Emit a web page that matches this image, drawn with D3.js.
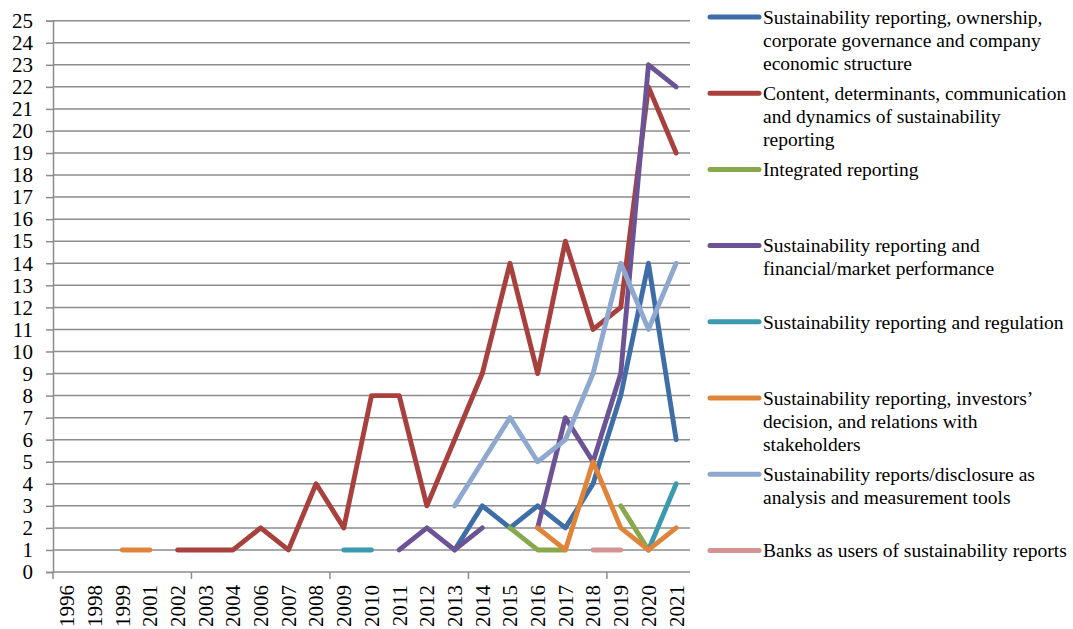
<!DOCTYPE html>
<html>
<head>
<meta charset="utf-8">
<script src="https://cdn.jsdelivr.net/npm/d3@7"></script>
<style>
  html, body { margin: 0; padding: 0; background: #fff; }
  svg text { font-family: "Liberation Serif", "Times New Roman", serif; }
</style>
</head>
<body>
<svg id="chart" width="1073" height="629"></svg>
<script>
// Publication years on the category axis
const years = ["1996","1998","1999","2001","2002","2003","2004","2006","2007","2008","2009",
  "2010","2011","2012","2013","2014","2015","2016","2017","2018","2019","2020","2021"];

// Number of papers per year for each research stream (null = no papers that year)
const ownershipGovernance = [null,null,null,null,null,null,null,null,null,null,null,null,null,null,1,3,2,3,2,4,8,14,6];
const contentDeterminants = [null,null,null,null,1,1,1,2,1,4,2,8,8,3,6,9,14,9,15,11,12,22,19];
const integratedReporting = [null,null,null,null,null,null,null,null,null,null,null,null,null,null,null,null,2,1,1,null,3,1,null];
const financialPerformance = [null,null,null,null,null,null,null,null,null,null,null,null,1,2,1,2,null,2,7,5,9,23,22];
const regulation = [null,null,null,null,null,null,null,null,null,null,1,1,null,null,null,null,null,null,null,null,null,1,4];
const investorsStakeholders = [null,null,1,1,null,null,null,null,null,null,null,null,null,null,null,null,null,2,1,5,2,1,2];
const measurementTools = [null,null,null,null,null,null,null,null,null,null,null,null,null,null,3,5,7,5,6,9,14,11,14];
const banksUsers = [null,null,null,null,null,null,null,null,null,null,null,null,null,null,null,null,null,null,null,1,1,null,null];

const seriesNames = [
  "Sustainability reporting, ownership, corporate governance and company economic structure",
  "Content, determinants, communication and dynamics of sustainability reporting",
  "Integrated reporting",
  "Sustainability reporting and financial/market performance",
  "Sustainability reporting and regulation",
  "Sustainability reporting, investors’ decision, and relations with stakeholders",
  "Sustainability reports/disclosure as analysis and measurement tools",
  "Banks as users of sustainability reports"
];
// Legend text broken into the lines it is set in
const legendLines = [
  ["Sustainability reporting, ownership,", "corporate governance and company", "economic structure"],
  ["Content, determinants, communication", "and dynamics of sustainability", "reporting"],
  ["Integrated reporting"],
  ["Sustainability reporting and", "financial/market performance"],
  ["Sustainability reporting and regulation"],
  ["Sustainability reporting, investors’", "decision, and relations with", "stakeholders"],
  ["Sustainability reports/disclosure as", "analysis and measurement tools"],
  ["Banks as users of sustainability reports"]
];
const seriesValues = [ownershipGovernance, contentDeterminants, integratedReporting, financialPerformance,
  regulation, investorsStakeholders, measurementTools, banksUsers];
const seriesColors = ["#3e6ea8", "#a8403d", "#87a94b", "#6c5395", "#3b9ab0", "#e0843a", "#8ea8d0", "#d39394"];

const yTicks = d3.range(0, 26);

const serif = "'Liberation Serif', 'Times New Roman', serif";
const svg = d3.select("#chart");
const plot = { left: 53, right: 690, top: 20.7, bottom: 572 };

const x = d3.scaleBand().domain(years).range([plot.left, plot.right]).padding(0);
const y = d3.scaleLinear().domain([0, 25]).range([plot.bottom, plot.top]);
const gridColor = "#8c8c8c";

// Horizontal gridlines
svg.append("g")
  .selectAll("line")
  .data(yTicks.filter(d => d > 0))
  .join("line")
  .attr("x1", plot.left).attr("x2", plot.right)
  .attr("y1", d => y(d)).attr("y2", d => y(d))
  .attr("stroke", gridColor).attr("stroke-width", 1.5);

// Y axis
const yAxis = svg.append("g")
  .attr("transform", `translate(${plot.left},0)`)
  .call(d3.axisLeft(y).tickValues(yTicks).tickSize(7).tickPadding(13))
  .attr("font-family", null);
yAxis.select(".domain").attr("stroke", gridColor).attr("stroke-width", 1.5);
yAxis.selectAll(".tick line").attr("stroke", gridColor).attr("stroke-width", 1.5);
yAxis.selectAll(".tick text")
  .style("font-family", serif)
  .style("font-size", "21px").attr("fill", "#000");

// X axis: line plus a tick every five categories, at band boundaries
const xg = svg.append("g");
xg.append("line")
  .attr("x1", plot.left).attr("x2", plot.right)
  .attr("y1", plot.bottom).attr("y2", plot.bottom)
  .attr("stroke", gridColor).attr("stroke-width", 1.5);
xg.selectAll("line.tick")
  .data(years.filter((d, i) => i % 5 === 0))
  .join("line")
  .attr("class", "tick")
  .attr("x1", d => x(d)).attr("x2", d => x(d))
  .attr("y1", plot.bottom).attr("y2", plot.bottom + 7)
  .attr("stroke", gridColor).attr("stroke-width", 1.5);
xg.selectAll("text")
  .data(years)
  .join("text")
  .attr("transform", d => `translate(${x(d) + x.bandwidth() / 2},${plot.bottom + 13}) rotate(-90)`)
  .attr("text-anchor", "end")
  .attr("dy", "0.35em")
  .style("font-family", serif)
  .style("font-size", "21px")
  .attr("fill", "#000")
  .text(d => d);

// Series lines
const line = d3.line()
  .defined(d => d.v != null)
  .x(d => x(d.year) + x.bandwidth() / 2)
  .y(d => y(d.v));

svg.append("g")
  .selectAll("path")
  .data(seriesValues.map((vals, i) => ({ i, pts: vals.map((v, j) => ({ year: years[j], v })) })))
  .join("path")
  .attr("d", s => line(s.pts))
  .attr("fill", "none")
  .attr("stroke", s => seriesColors[s.i])
  .attr("stroke-width", 4.9)
  .attr("stroke-linejoin", "round")
  .attr("stroke-linecap", "round");

// Legend
const legend = svg.append("g");
const entry = legend.selectAll("g")
  .data(seriesNames.map((name, i) => ({ name, i })))
  .join("g")
  .attr("transform", d => `translate(0,${17 + d.i * 76.2})`);
entry.append("line")
  .attr("x1", 710).attr("x2", 759)
  .attr("y1", 0).attr("y2", 0)
  .attr("stroke", d => seriesColors[d.i])
  .attr("stroke-width", 5)
  .attr("stroke-linecap", "round");
entry.append("text")
  .attr("x", 763)
  .attr("y", 0)
  .style("font-family", serif)
  .style("font-size", "19.5px")
  .attr("fill", "#000")
  .selectAll("tspan")
  .data(d => legendLines[d.i])
  .join("tspan")
  .attr("x", 763)
  .attr("dy", (d, k) => k === 0 ? "0.35em" : 23)
  .text(d => d);
</script>
</body>
</html>
